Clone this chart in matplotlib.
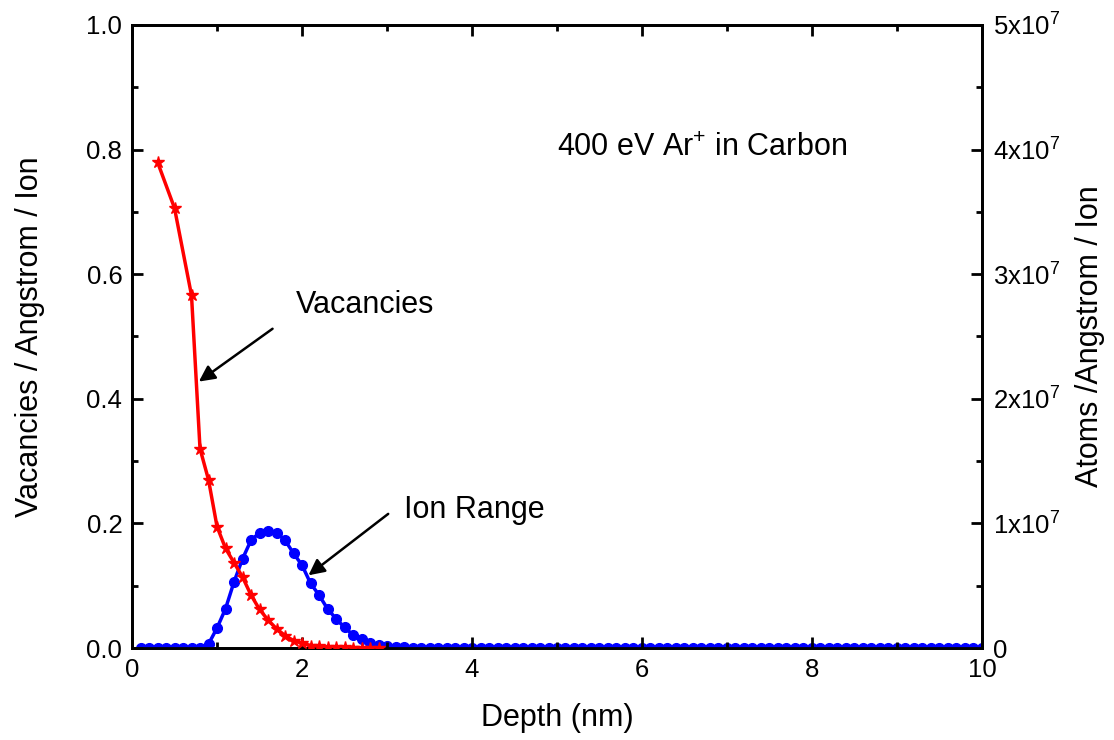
import numpy as np
import matplotlib
matplotlib.use("Agg")
import matplotlib.pyplot as plt
from matplotlib.ticker import MultipleLocator, FuncFormatter

plt.rcParams['font.family'] = ['Liberation Sans', 'DejaVu Sans']
plt.rcParams['mathtext.fontset'] = 'custom'
plt.rcParams['mathtext.rm'] = 'Liberation Sans'
plt.rcParams['mathtext.it'] = 'Liberation Sans:italic'
plt.rcParams['mathtext.bf'] = 'Liberation Sans:bold'

# Vacancies (left axis), depth in nm
vac_depth = [0.3, 0.5, 0.7, 0.8, 0.9, 1.0, 1.1, 1.2, 1.3, 1.4, 1.5, 1.6, 1.7,
             1.8, 1.9, 2.0, 2.1, 2.2, 2.3, 2.4, 2.5, 2.6, 2.7, 2.8, 2.9]
vacancies = [0.78, 0.706, 0.566, 0.32, 0.27, 0.195, 0.16, 0.137, 0.114, 0.085,
             0.062, 0.045, 0.031, 0.02, 0.012, 0.008, 0.004, 0.003, 0.002,
             0.0015, 0.001, 0.0007, 0.0005, 0.0003, 0.0002]

# Ion range (right axis, units of 1e7 atoms / Angstrom / ion)
ion_depth = np.arange(1, 101) / 10
ion_head = [0, 0, 0, 0, 0, 0, 0, 0, 0.032, 0.16, 0.315, 0.53, 0.715, 0.865,
            0.925, 0.94, 0.925, 0.865, 0.76, 0.665, 0.52, 0.425, 0.315, 0.235,
            0.165, 0.105, 0.07, 0.043, 0.025, 0.015, 0.01, 0.005, 0.003, 0.001]
ion_range = ion_head + [0.0] * (100 - len(ion_head))

fig = plt.figure(figsize=(11.14, 7.4), dpi=100)
ax = fig.add_axes([0.1185, 0.1243, 0.763, 0.842])
ax2 = ax.twinx()

ax2.plot(ion_depth, np.array(ion_range) * 1e7, color='#0000ff', lw=2.5,
         marker='o', markersize=7, zorder=3)
ax.plot(vac_depth, vacancies, color='#ff0000', lw=2.5, marker='*',
        markersize=9, zorder=3)
ax.set_zorder(ax2.get_zorder() + 1)
ax.patch.set_visible(False)

ax.set_xlim(0, 10)
ax.set_ylim(0, 1.0)
ax2.set_ylim(0, 5e7)

ax.xaxis.set_major_locator(MultipleLocator(2))
ax.xaxis.set_minor_locator(MultipleLocator(1))
ax.yaxis.set_major_locator(MultipleLocator(0.2))
ax.yaxis.set_minor_locator(MultipleLocator(0.1))
ax.yaxis.set_major_formatter(FuncFormatter(lambda v, p: f"{v:.1f}"))
ax2.yaxis.set_major_locator(MultipleLocator(1e7))
ax2.yaxis.set_minor_locator(MultipleLocator(0.5e7))
ax2.yaxis.set_major_formatter(FuncFormatter(
    lambda v, p: "0" if v == 0 else r"$%d\mathrm{x}10^{7}$" % round(v / 1e7)))

for a in (ax, ax2):
    for s in a.spines.values():
        s.set_linewidth(2)
ax.tick_params(which='both', direction='in', top=True, right=False,
               labelsize=18.5, width=2, pad=7)
ax.tick_params(which='major', length=8)
ax.tick_params(which='minor', length=4)
ax2.tick_params(which='both', direction='in', labelsize=18.5, width=2, pad=8)
ax2.tick_params(which='major', length=8)
ax2.tick_params(which='minor', length=4)

ax.set_xlabel("Depth (nm)", fontsize=22, labelpad=15)
ax.set_ylabel("Vacancies / Angstrom / Ion", fontsize=22, labelpad=30)
ax2.set_ylabel("Atoms /Angstrom / Ion", fontsize=22, labelpad=11)

ax.text(5.0, 0.803, r"400 eV Ar$^{+}$ in Carbon", fontsize=22, va='center')
ax.text(1.93, 0.55, "Vacancies", fontsize=22, va='center')
ax.text(3.2, 0.2215, "Ion Range", fontsize=22, va='center')

arrow = dict(arrowstyle='-|>', color='black', lw=1.8, mutation_scale=24)
ax.annotate('', xy=(0.76, 0.425), xytext=(1.68, 0.515), arrowprops=arrow)
ax.annotate('', xy=(2.05, 0.114), xytext=(3.04, 0.218), arrowprops=arrow)

fig.savefig("out.png", dpi=100)
